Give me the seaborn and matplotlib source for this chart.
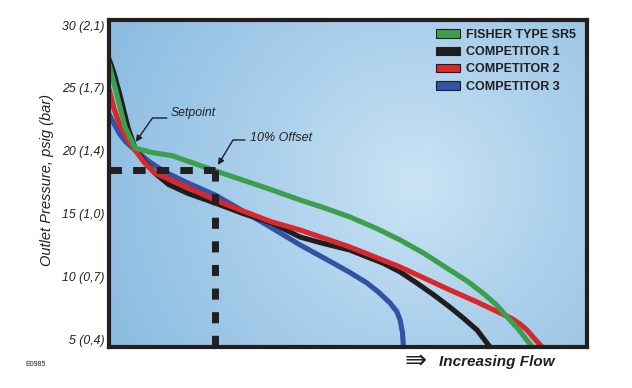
import numpy as np
import pandas as pd
import matplotlib
matplotlib.use("Agg")
import matplotlib.pyplot as plt
import seaborn as sns
from matplotlib.patches import Patch

# ---------------- data ----------------
series_names = ["FISHER TYPE SR5", "COMPETITOR 1", "COMPETITOR 2", "COMPETITOR 3"]
series_colors = ["#3d9e4d", "#1f1d1d", "#d8282b", "#3152a5"]

sr5_flow = [0, 1.26, 3.35, 5.44, 9.0, 13.2, 22.2, 34.1, 40.0, 45.0, 50.4, 56.0, 60.9, 66.0, 71.3, 75.0, 78.2, 81.0, 83.3, 85.5, 87.4, 88.6]
sr5_pressure = [26.9, 25.06, 21.88, 20.2, 19.85, 19.6, 18.4, 16.87, 16.07, 15.45, 14.72, 13.8, 12.89, 11.8, 10.50, 9.6, 8.67, 7.75, 6.76, 5.85, 4.93, 4.37]

comp1_flow = [0, 1.0, 2.3, 4.0, 5.44, 7.5, 9.62, 12.5, 16.5, 22.2, 28.0, 34.1, 40.0, 45.0, 50.4, 53.6, 57.3, 60.9, 64.4, 68.0, 71.3, 74.2, 77.0, 79.7]
comp1_pressure = [27.3, 26.2, 24.4, 21.8, 20.2, 19.1, 18.2, 17.3, 16.6, 15.83, 15.0, 14.24, 13.12, 12.6, 12.09, 11.6, 11.05, 10.35, 9.46, 8.5, 7.55, 6.65, 5.72, 4.37]

comp2_flow = [0, 1.0, 2.3, 4.0, 5.44, 7.5, 9.62, 14.4, 22.2, 28.0, 34.1, 40.0, 50.4, 60.9, 71.3, 77.0, 81.8, 84.2, 86.0, 87.5, 88.7, 90.6]
comp2_pressure = [24.9, 23.4, 22.0, 20.8, 20.05, 19.0, 18.22, 17.42, 16.07, 15.2, 14.32, 13.68, 12.33, 10.74, 8.91, 7.95, 7.08, 6.65, 6.2, 5.7, 5.17, 4.37]

comp3_flow = [0, 1.26, 2.3, 3.5, 5.44, 8.5, 11.7, 16.5, 22.2, 28.0, 34.1, 40.0, 46.9, 50.4, 54.0, 56.5, 58.8, 60.2, 60.9, 61.4, 61.6]
comp3_pressure = [22.9, 22.0, 21.3, 20.7, 20.05, 19.1, 18.3, 17.42, 16.47, 15.2, 13.84, 12.49, 11.05, 10.3, 9.46, 8.7, 7.87, 7.2, 6.52, 5.5, 4.37]

y_ticks = [5, 10, 15, 20, 25, 30]
y_tick_labels = ["5 (0,4)", "10 (0,7)", "15 (1,0)", "20 (1,4)", "25 (1,7)", "30 (2,1)"]

setpoint_flow, setpoint_pressure = 5.6, 20.7
offset_flow, offset_pressure = 22.2, 18.45

x_min, x_max = 0, 100
y_min, y_max = 4.37, 30.4

# ---------------- build table ----------------
frames = []
for name, fl, pr in [
    ("COMPETITOR 3", comp3_flow, comp3_pressure),
    ("COMPETITOR 1", comp1_flow, comp1_pressure),
    ("COMPETITOR 2", comp2_flow, comp2_pressure),
    ("FISHER TYPE SR5", sr5_flow, sr5_pressure),
]:
    frames.append(pd.DataFrame({"flow": fl, "pressure": pr, "series": name}))
df = pd.concat(frames, ignore_index=True)

sns.set_style("white")
plt.rcParams["font.family"] = ["Liberation Sans", "DejaVu Sans"]

dark = "#231f20"
fig = plt.figure(figsize=(6.32, 3.88), dpi=100)
ax = fig.add_axes([109 / 632, 1 - 347 / 388, 478 / 632, 327 / 388])

# background gradient (decorative)
H, W = 240, 360
u = np.linspace(0, 1, W)[None, :]
v = np.linspace(0, 1, H)[:, None]
d = np.sqrt(((u - 0.64) * 478) ** 2 + ((v - 0.5) * 327) ** 2) / 330.0
t = np.clip(d, 0, 1) ** 0.85
c0 = np.array([0xcc, 0xe5, 0xf6]) / 255.0
c1 = np.array([0x8e, 0xbd, 0xe2]) / 255.0
img = c0[None, None, :] * (1 - t[..., None]) + c1[None, None, :] * t[..., None]
ax.imshow(img, extent=[x_min, x_max, y_min, y_max], aspect="auto",
          origin="lower", zorder=0, interpolation="bilinear")

palette = dict(zip(series_names, series_colors))
sns.lineplot(data=df, x="flow", y="pressure", hue="series",
             hue_order=["COMPETITOR 3", "COMPETITOR 1", "COMPETITOR 2", "FISHER TYPE SR5"],
             palette=palette, sort=False, estimator=None, legend=False,
             linewidth=3.7, ax=ax, zorder=3)
for ln in ax.get_lines():
    ln.set_solid_capstyle("butt")
    ln.set_solid_joinstyle("round")

# 10% offset dashed reference lines
ax.plot([x_min, offset_flow], [offset_pressure, offset_pressure], color=dark,
        linewidth=5.0, dashes=(1.8, 1.6), zorder=5, solid_capstyle="butt")
ax.plot([offset_flow, offset_flow], [offset_pressure, y_min], color=dark,
        linewidth=5.0, dashes=(1.6, 1.8), zorder=5)

# annotations
arrow_kw = dict(arrowstyle="-|>", color=dark, lw=1.0, mutation_scale=9,
                shrinkA=0, shrinkB=0)
ax.annotate("", xy=(setpoint_flow, setpoint_pressure), xytext=(12.1, 22.6),
            arrowprops=dict(connectionstyle="angle,angleA=0,angleB=55,rad=0", **arrow_kw),
            zorder=6)
ax.text(12.8, 23.0, "Setpoint", fontsize=8.8, fontstyle="italic", color=dark,
        ha="left", va="center", zorder=6)
ax.annotate("", xy=(22.8, 18.86), xytext=(28.45, 20.85),
            arrowprops=dict(connectionstyle="angle,angleA=0,angleB=59,rad=0", **arrow_kw),
            zorder=6)
ax.text(29.5, 21.0, "10% Offset", fontsize=9.0, fontstyle="italic", color=dark,
        ha="left", va="center", zorder=6)

# axes styling
ax.set_xlim(x_min, x_max)
ax.set_ylim(y_min, y_max)
ax.set_xticks([])
ax.set_yticks(y_ticks)
ax.set_yticklabels(y_tick_labels, fontsize=8.8, fontstyle="italic", color=dark)
ax.tick_params(axis="y", length=0, pad=3)
ax.set_xlabel("")
ax.set_ylabel("")
for s in ax.spines.values():
    s.set_visible(True)
    s.set_color(dark)
    s.set_linewidth(3.0)
    s.set_zorder(10)

# legend
handles = [Patch(facecolor=c, edgecolor=dark, linewidth=0.8, label=n)
           for n, c in zip(series_names, series_colors)]
leg = ax.legend(handles=handles, loc="upper left",
                bbox_to_anchor=(436 / 632, 1 - 29 / 388), bbox_transform=fig.transFigure,
                frameon=False, borderpad=0, borderaxespad=0,
                handlelength=1.9, handleheight=0.65, handletextpad=0.5,
                labelspacing=0.42, prop={"size": 9, "weight": "bold"})
for txt in leg.get_texts():
    txt.set_color(dark)

# outer texts
fig.text(47 / 632, 1 - 180 / 388, "Outlet Pressure, psig (bar)", rotation=90,
         fontsize=10.5, fontstyle="italic", color=dark, ha="center", va="center")
fig.text(405 / 632, 1 - 361 / 388, "\u21db", fontsize=19, color=dark,
         family=["DejaVu Sans"], ha="left", va="center")
fig.text(439 / 632, 1 - 362 / 388, "Increasing Flow", fontsize=11, fontweight="bold",
         fontstyle="italic", color=dark, ha="left", va="center")
fig.text(25 / 632, 1 - 364 / 388, "E0985", fontsize=5, color=dark, ha="left", va="center")

fig.savefig("out.png", dpi=100)
